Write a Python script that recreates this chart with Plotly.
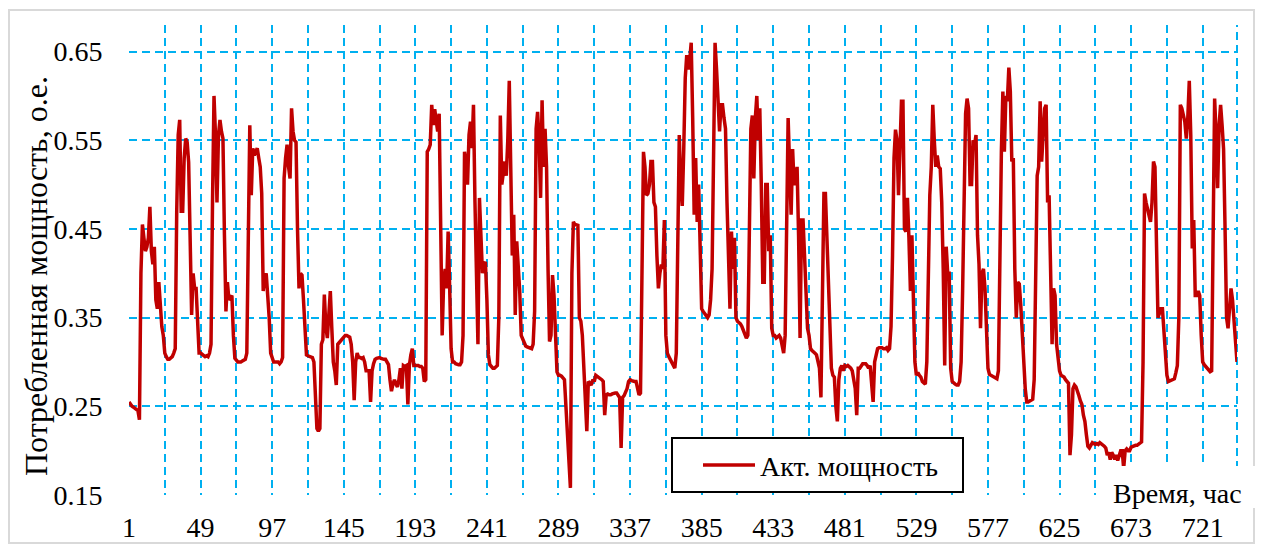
import plotly.graph_objects as go

# Hourly active power (p.u.) for one month, one list per day (hours 1..24)
day01 = [0.255, 0.252, 0.250, 0.249, 0.248, 0.247, 0.245, 0.235, 0.400, 0.455, 0.440, 0.425, 0.430, 0.440, 0.475, 0.425, 0.410, 0.430, 0.370, 0.360, 0.390, 0.357, 0.340, 0.330]
day02 = [0.310, 0.306, 0.303, 0.303, 0.305, 0.306, 0.310, 0.315, 0.470, 0.556, 0.573, 0.470, 0.470, 0.530, 0.552, 0.548, 0.525, 0.405, 0.353, 0.400, 0.383, 0.383, 0.340, 0.310]
day03 = [0.310, 0.309, 0.308, 0.306, 0.307, 0.306, 0.310, 0.320, 0.480, 0.600, 0.556, 0.480, 0.556, 0.573, 0.560, 0.552, 0.443, 0.357, 0.390, 0.370, 0.372, 0.375, 0.330, 0.304]
day04 = [0.302, 0.300, 0.300, 0.300, 0.301, 0.302, 0.303, 0.310, 0.440, 0.567, 0.488, 0.541, 0.533, 0.537, 0.541, 0.530, 0.520, 0.490, 0.380, 0.395, 0.400, 0.375, 0.350, 0.310]
day05 = [0.303, 0.300, 0.300, 0.300, 0.300, 0.298, 0.300, 0.305, 0.507, 0.530, 0.545, 0.520, 0.507, 0.586, 0.560, 0.550, 0.548, 0.450, 0.383, 0.400, 0.398, 0.370, 0.330, 0.308]
day06 = [0.307, 0.306, 0.305, 0.305, 0.300, 0.260, 0.225, 0.222, 0.225, 0.320, 0.325, 0.376, 0.340, 0.327, 0.360, 0.380, 0.338, 0.300, 0.290, 0.274, 0.320, 0.322, 0.323, 0.325]
day07 = [0.328, 0.330, 0.330, 0.329, 0.328, 0.320, 0.300, 0.257, 0.300, 0.310, 0.305, 0.305, 0.304, 0.305, 0.300, 0.290, 0.290, 0.290, 0.255, 0.290, 0.298, 0.303, 0.304, 0.305]
day08 = [0.305, 0.304, 0.303, 0.303, 0.303, 0.300, 0.297, 0.280, 0.267, 0.275, 0.280, 0.275, 0.272, 0.280, 0.293, 0.270, 0.296, 0.295, 0.296, 0.252, 0.296, 0.308, 0.315, 0.296]
day09 = [0.296, 0.296, 0.296, 0.295, 0.295, 0.293, 0.278, 0.280, 0.537, 0.540, 0.545, 0.590, 0.567, 0.585, 0.575, 0.560, 0.580, 0.450, 0.330, 0.390, 0.405, 0.383, 0.447, 0.386]
day10 = [0.315, 0.300, 0.300, 0.298, 0.297, 0.297, 0.297, 0.300, 0.330, 0.537, 0.526, 0.500, 0.556, 0.571, 0.541, 0.590, 0.480, 0.405, 0.320, 0.485, 0.443, 0.400, 0.410, 0.413]
day11 = [0.370, 0.308, 0.297, 0.295, 0.293, 0.293, 0.294, 0.296, 0.350, 0.578, 0.500, 0.510, 0.526, 0.510, 0.550, 0.617, 0.530, 0.420, 0.466, 0.353, 0.436, 0.410, 0.380, 0.330]
day12 = [0.325, 0.320, 0.318, 0.317, 0.316, 0.315, 0.315, 0.320, 0.357, 0.563, 0.582, 0.550, 0.485, 0.595, 0.520, 0.563, 0.520, 0.405, 0.323, 0.330, 0.398, 0.375, 0.330, 0.289]
day13 = [0.285, 0.285, 0.284, 0.282, 0.280, 0.250, 0.217, 0.190, 0.158, 0.400, 0.458, 0.455, 0.454, 0.454, 0.350, 0.346, 0.330, 0.290, 0.257, 0.222, 0.278, 0.275, 0.274, 0.280]
day14 = [0.278, 0.285, 0.284, 0.283, 0.282, 0.280, 0.278, 0.240, 0.263, 0.264, 0.263, 0.263, 0.264, 0.265, 0.265, 0.265, 0.263, 0.260, 0.203, 0.260, 0.262, 0.265, 0.270, 0.278]
day15 = [0.280, 0.279, 0.278, 0.278, 0.278, 0.270, 0.263, 0.265, 0.450, 0.537, 0.520, 0.488, 0.490, 0.500, 0.526, 0.526, 0.480, 0.475, 0.420, 0.383, 0.400, 0.410, 0.405, 0.460]
day16 = [0.330, 0.310, 0.306, 0.303, 0.300, 0.298, 0.293, 0.310, 0.425, 0.556, 0.500, 0.476, 0.540, 0.620, 0.646, 0.630, 0.640, 0.660, 0.575, 0.466, 0.530, 0.458, 0.500, 0.420]
day17 = [0.360, 0.357, 0.355, 0.353, 0.350, 0.353, 0.370, 0.405, 0.556, 0.660, 0.630, 0.594, 0.560, 0.590, 0.590, 0.575, 0.563, 0.480, 0.405, 0.360, 0.447, 0.405, 0.440, 0.350]
day18 = [0.346, 0.345, 0.343, 0.340, 0.335, 0.330, 0.327, 0.330, 0.473, 0.563, 0.578, 0.507, 0.575, 0.600, 0.550, 0.586, 0.500, 0.390, 0.390, 0.500, 0.500, 0.425, 0.443, 0.338]
day19 = [0.330, 0.330, 0.327, 0.328, 0.330, 0.327, 0.320, 0.310, 0.330, 0.443, 0.575, 0.520, 0.466, 0.540, 0.500, 0.503, 0.520, 0.443, 0.327, 0.460, 0.460, 0.420, 0.383, 0.338]
day20 = [0.330, 0.315, 0.313, 0.312, 0.310, 0.308, 0.300, 0.293, 0.260, 0.400, 0.490, 0.490, 0.440, 0.405, 0.350, 0.293, 0.285, 0.283, 0.250, 0.233, 0.280, 0.293, 0.296, 0.290]
day21 = [0.296, 0.295, 0.296, 0.295, 0.293, 0.290, 0.280, 0.270, 0.240, 0.293, 0.293, 0.296, 0.298, 0.298, 0.298, 0.296, 0.293, 0.296, 0.280, 0.255, 0.300, 0.308, 0.315, 0.316]
day22 = [0.316, 0.316, 0.315, 0.315, 0.316, 0.313, 0.315, 0.340, 0.420, 0.530, 0.562, 0.550, 0.488, 0.540, 0.594, 0.594, 0.450, 0.447, 0.485, 0.440, 0.380, 0.443, 0.380, 0.300]
day23 = [0.285, 0.288, 0.285, 0.283, 0.278, 0.277, 0.275, 0.300, 0.400, 0.488, 0.520, 0.590, 0.550, 0.520, 0.533, 0.520, 0.518, 0.480, 0.405, 0.296, 0.430, 0.400, 0.400, 0.293]
day24 = [0.278, 0.276, 0.275, 0.274, 0.274, 0.278, 0.300, 0.380, 0.500, 0.580, 0.597, 0.586, 0.500, 0.500, 0.550, 0.545, 0.556, 0.443, 0.410, 0.338, 0.400, 0.405, 0.383, 0.320]
day25 = [0.293, 0.286, 0.285, 0.284, 0.283, 0.282, 0.281, 0.290, 0.460, 0.537, 0.605, 0.537, 0.600, 0.594, 0.632, 0.605, 0.526, 0.530, 0.405, 0.350, 0.390, 0.388, 0.364, 0.330]
day26 = [0.295, 0.270, 0.255, 0.255, 0.256, 0.257, 0.258, 0.280, 0.400, 0.510, 0.520, 0.594, 0.526, 0.550, 0.586, 0.590, 0.480, 0.488, 0.405, 0.320, 0.383, 0.375, 0.320, 0.300]
day27 = [0.290, 0.285, 0.284, 0.283, 0.280, 0.278, 0.276, 0.195, 0.218, 0.270, 0.274, 0.272, 0.268, 0.262, 0.256, 0.252, 0.240, 0.233, 0.218, 0.205, 0.203, 0.207, 0.209, 0.208]
day28 = [0.207, 0.208, 0.207, 0.209, 0.208, 0.207, 0.205, 0.203, 0.195, 0.198, 0.190, 0.198, 0.195, 0.190, 0.195, 0.189, 0.195, 0.200, 0.200, 0.180, 0.200, 0.202, 0.200, 0.200]
day29 = [0.204, 0.205, 0.205, 0.206, 0.206, 0.207, 0.208, 0.210, 0.300, 0.490, 0.480, 0.473, 0.465, 0.458, 0.480, 0.526, 0.520, 0.443, 0.350, 0.355, 0.360, 0.360, 0.333, 0.310]
day30 = [0.285, 0.278, 0.279, 0.280, 0.280, 0.281, 0.288, 0.296, 0.350, 0.590, 0.586, 0.580, 0.571, 0.552, 0.575, 0.617, 0.556, 0.428, 0.460, 0.375, 0.375, 0.380, 0.375, 0.330]
day31 = [0.300, 0.297, 0.295, 0.292, 0.290, 0.289, 0.290, 0.450, 0.597, 0.556, 0.496, 0.567, 0.590, 0.567, 0.540, 0.450, 0.350, 0.338, 0.366, 0.383, 0.370, 0.345, 0.330, 0.300]

days = [day01, day02, day03, day04, day05, day06, day07, day08, day09, day10,
        day11, day12, day13, day14, day15, day16, day17, day18, day19, day20,
        day21, day22, day23, day24, day25, day26, day27, day28, day29, day30, day31]
power = [v for d in days for v in d]
hours = list(range(1, len(power) + 1))

series_name = "Акт. мощность"
y_title = "Потребленная мощность, о.е."
x_title = "Время, час"
y_ticks = [0.15, 0.25, 0.35, 0.45, 0.55, 0.65]
x_ticks = list(range(1, len(power) + 1, 48))

FONT = "Liberation Serif"
GRID = "#00B0F0"
LINE = "#C00000"
DASH = "8px,5px"
W, H = 1263, 551
M = dict(l=129, r=26, t=25, b=56)
PW = W - M["l"] - M["r"]
PH = H - M["t"] - M["b"]


def px(xp):
    """Pixel column -> paper x."""
    return (xp - M["l"]) / PW


def py(yp):
    """Pixel row -> paper y."""
    return (H - M["b"] - yp) / PH


fig = go.Figure()
fig.add_trace(go.Scatter(
    x=hours, y=power, mode="lines", name=series_name, showlegend=False,
    line=dict(color=LINE, width=3.5),
))

# Boxed legend: frame, line sample and label
legend_box = dict(type="rect", xref="paper", yref="paper",
                  x0=px(672), x1=px(963), y0=py(492), y1=py(438),
                  fillcolor="white", line=dict(color="black", width=2), layer="above")
legend_line = dict(type="line", xref="paper", yref="paper",
                   x0=px(703), x1=px(755), y0=py(465), y1=py(465),
                   line=dict(color=LINE, width=3.5), layer="above")
# white patch behind the x-axis caption in the lower right corner
caption_patch = dict(type="rect", xref="paper", yref="paper",
                     x0=px(1098), x1=px(1256), y0=py(508), y1=py(466),
                     fillcolor="white", line=dict(width=0), layer="above")

fig.update_layout(
    width=W, height=H, margin=M,
    paper_bgcolor="white", plot_bgcolor="white",
    font=dict(family=FONT, size=28, color="black"),
    showlegend=False,
    xaxis=dict(
        range=[1, len(power)], automargin=False,
        tickmode="array", tickvals=x_ticks, ticktext=[str(v) for v in x_ticks],
        ticks="outside", ticklen=7, tickcolor="rgba(0,0,0,0)",
        tickfont=dict(family=FONT, size=28),
        showgrid=True, gridcolor=GRID, gridwidth=2, griddash=DASH,
        minor=dict(tick0=1, dtick=24, showgrid=True, gridcolor=GRID,
                   gridwidth=2, griddash=DASH),
        showline=False, zeroline=False,
    ),
    yaxis=dict(
        range=[0.15, 0.68], automargin=False,
        tickmode="array", tickvals=y_ticks, ticktext=[f"{v:.2f}" for v in y_ticks],
        ticks="outside", ticklen=20, tickcolor="rgba(0,0,0,0)",
        tickfont=dict(family=FONT, size=28),
        showgrid=True, gridcolor=GRID, gridwidth=2, griddash=DASH,
        showline=False, zeroline=False,
    ),
    shapes=[
        # dashed grid line closing the right edge of the plot area
        dict(type="line", xref="paper", yref="paper", x0=1, x1=1, y0=0, y1=1,
             line=dict(color=GRID, width=2, dash=DASH), layer="below"),
        # light frame around the whole chart
        dict(type="rect", xref="paper", yref="paper",
             x0=px(9), x1=px(1254), y0=py(543), y1=py(10),
             line=dict(color="#D9D9D9", width=2), layer="below"),
        legend_box,
        legend_line,
        caption_patch,
    ],
    annotations=[
        dict(text=y_title, xref="paper", yref="paper", textangle=-90,
             x=px(36), y=py(276), xanchor="center", yanchor="middle",
             showarrow=False, font=dict(family=FONT, size=32, color="black")),
        dict(text=series_name, xref="paper", yref="paper",
             x=px(759), y=py(466), xanchor="left", yanchor="middle",
             showarrow=False, borderpad=0,
             font=dict(family=FONT, size=28, color="black")),
        dict(text=x_title, xref="paper", yref="paper",
             x=px(1243), y=py(493), xanchor="right", yanchor="middle",
             showarrow=False, borderpad=0,
             font=dict(family=FONT, size=28, color="black")),
    ],
)

fig.write_html("out.html")
